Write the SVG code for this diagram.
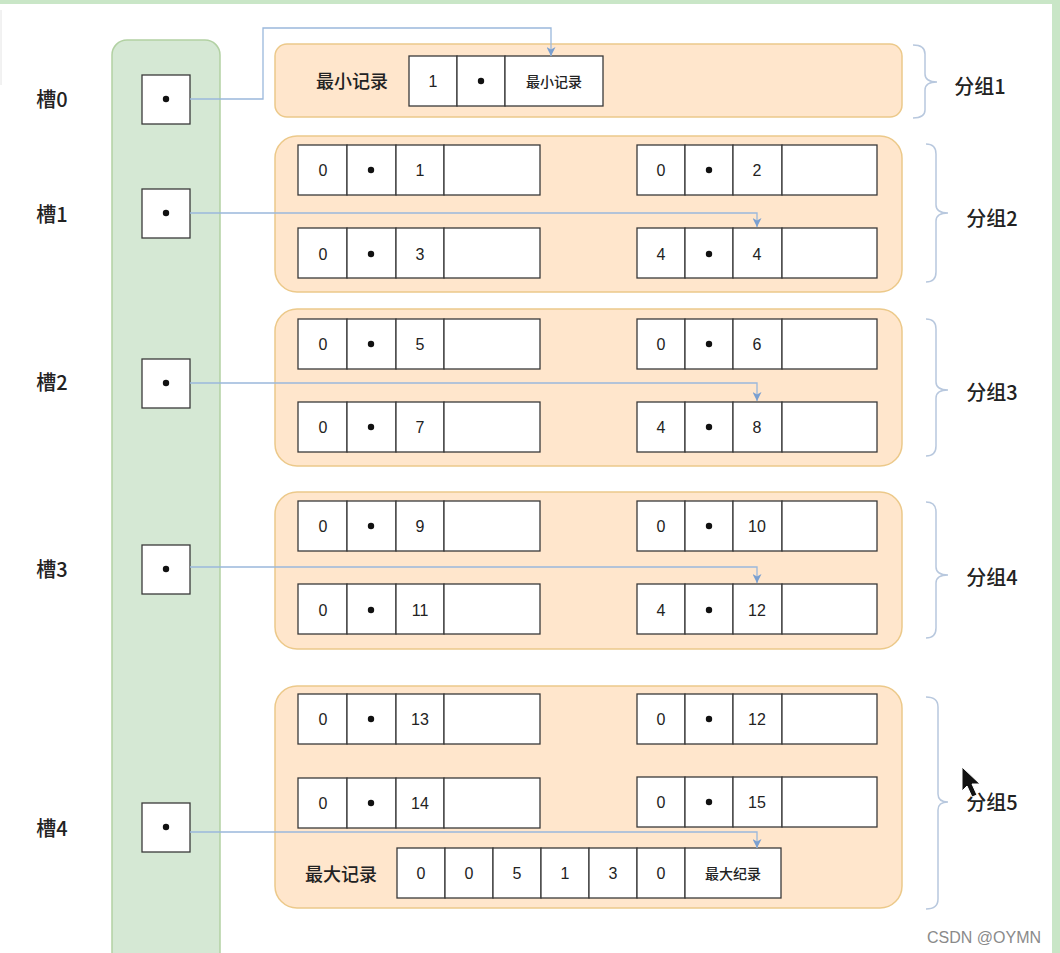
<svg xmlns="http://www.w3.org/2000/svg" width="1060" height="953" viewBox="0 0 1060 953">
<style>
.grp{fill:#ffe6cc;stroke:#ecc98a;stroke-width:1.5}
.col{fill:#d5e8d4;stroke:#b2d1a3;stroke-width:1.5}
.cell{fill:#fff;stroke:#3a3a3a;stroke-width:1.3}
.t{font-family:"Liberation Sans","Noto Sans CJK SC",sans-serif;fill:#222;text-anchor:middle;dominant-baseline:central}
.n{font-size:16px}
.lbl{font-size:20px;font-weight:500;font-family:"Noto Sans CJK SC","Liberation Sans",sans-serif}
.sm{font-size:14px;font-weight:500;font-family:"Noto Sans CJK SC","Liberation Sans",sans-serif}
.md{font-size:18px;font-weight:500;font-family:"Noto Sans CJK SC","Liberation Sans",sans-serif}
.conn{fill:none;stroke:#9ab8dc;stroke-width:1.3}
.brace{fill:none;stroke:#b8c8de;stroke-width:1.5}
.dot{fill:#111}
</style>
<defs>
<marker id="arr" markerWidth="9" markerHeight="9" refX="9" refY="4.5" orient="auto" markerUnits="userSpaceOnUse" viewBox="0 0 9 9">
<path d="M0,0 L9,4.5 L0,9 L2.5,4.5 Z" fill="#7a9fd0"/>
</marker>
</defs>
<rect width="1060" height="953" fill="#fff"/>
<rect x="0" y="0" width="1060" height="4" fill="#c9e6c7"/>
<rect x="1052" y="0" width="8" height="953" fill="#c9e6c7"/>
<line x1="1" y1="10" x2="1" y2="85" stroke="#e4e4e4" stroke-width="1"/>

<g id="slots-column"><rect class="col" x="112" y="40" width="108" height="930" rx="15"/></g>

<g id="slot-labels">
<text class="t lbl" x="52" y="98">槽0</text>
<text class="t lbl" x="52" y="213">槽1</text>
<text class="t lbl" x="52" y="381">槽2</text>
<text class="t lbl" x="52" y="568">槽3</text>
<text class="t lbl" x="52" y="827">槽4</text>
</g>

<g id="slot0"><rect class="cell" x="142" y="75" width="48" height="49"/><circle class="dot" cx="166" cy="99" r="3.2"/></g>
<g id="slot1"><rect class="cell" x="142" y="189" width="48" height="49"/><circle class="dot" cx="166" cy="213" r="3.2"/></g>
<g id="slot2"><rect class="cell" x="142" y="359" width="48" height="49"/><circle class="dot" cx="166" cy="383" r="3.2"/></g>
<g id="slot3"><rect class="cell" x="142" y="545" width="48" height="49"/><circle class="dot" cx="166" cy="569" r="3.2"/></g>
<g id="slot4"><rect class="cell" x="142" y="803" width="48" height="49"/><circle class="dot" cx="166" cy="827" r="3.2"/></g>

<g id="group1">
<rect class="grp" x="275" y="44" width="627" height="73" rx="12"/>
<text class="t md" x="352" y="80">最小记录</text>
<rect class="cell" x="409" y="56" width="48" height="50"/>
<rect class="cell" x="457" y="56" width="48" height="50"/>
<rect class="cell" x="505" y="56" width="98" height="50"/>
<text class="t n" x="433" y="81">1</text>
<circle class="dot" cx="481" cy="81" r="3.2"/>
<text class="t sm" x="554" y="81">最小记录</text>
</g>

<g id="group2">
<rect class="grp" x="275" y="136" width="627" height="156" rx="22"/>
<rect class="cell" x="298" y="145" width="49" height="50"/><rect class="cell" x="347" y="145" width="49" height="50"/><rect class="cell" x="396" y="145" width="48" height="50"/><rect class="cell" x="444" y="145" width="96" height="50"/>
<text class="t n" x="323" y="170">0</text><circle class="dot" cx="371" cy="170" r="3.2"/><text class="t n" x="420" y="170">1</text>
<rect class="cell" x="637" y="145" width="48" height="50"/><rect class="cell" x="685" y="145" width="48" height="50"/><rect class="cell" x="733" y="145" width="49" height="50"/><rect class="cell" x="782" y="145" width="95" height="50"/>
<text class="t n" x="661" y="170">0</text><circle class="dot" cx="709" cy="170" r="3.2"/><text class="t n" x="757" y="170">2</text>
<rect class="cell" x="298" y="228" width="49" height="50"/><rect class="cell" x="347" y="228" width="49" height="50"/><rect class="cell" x="396" y="228" width="48" height="50"/><rect class="cell" x="444" y="228" width="96" height="50"/>
<text class="t n" x="323" y="254">0</text><circle class="dot" cx="371" cy="254" r="3.2"/><text class="t n" x="420" y="254">3</text>
<rect class="cell" x="637" y="228" width="48" height="50"/><rect class="cell" x="685" y="228" width="48" height="50"/><rect class="cell" x="733" y="228" width="49" height="50"/><rect class="cell" x="782" y="228" width="95" height="50"/>
<text class="t n" x="661" y="254">4</text><circle class="dot" cx="709" cy="254" r="3.2"/><text class="t n" x="757" y="254">4</text>
</g>

<g id="group3">
<rect class="grp" x="275" y="309" width="627" height="157" rx="22"/>
<rect class="cell" x="298" y="319" width="49" height="50"/><rect class="cell" x="347" y="319" width="49" height="50"/><rect class="cell" x="396" y="319" width="48" height="50"/><rect class="cell" x="444" y="319" width="96" height="50"/>
<text class="t n" x="323" y="344">0</text><circle class="dot" cx="371" cy="344" r="3.2"/><text class="t n" x="420" y="344">5</text>
<rect class="cell" x="637" y="319" width="48" height="50"/><rect class="cell" x="685" y="319" width="48" height="50"/><rect class="cell" x="733" y="319" width="49" height="50"/><rect class="cell" x="782" y="319" width="95" height="50"/>
<text class="t n" x="661" y="344">0</text><circle class="dot" cx="709" cy="344" r="3.2"/><text class="t n" x="757" y="344">6</text>
<rect class="cell" x="298" y="402" width="49" height="50"/><rect class="cell" x="347" y="402" width="49" height="50"/><rect class="cell" x="396" y="402" width="48" height="50"/><rect class="cell" x="444" y="402" width="96" height="50"/>
<text class="t n" x="323" y="427">0</text><circle class="dot" cx="371" cy="427" r="3.2"/><text class="t n" x="420" y="427">7</text>
<rect class="cell" x="637" y="402" width="48" height="50"/><rect class="cell" x="685" y="402" width="48" height="50"/><rect class="cell" x="733" y="402" width="49" height="50"/><rect class="cell" x="782" y="402" width="95" height="50"/>
<text class="t n" x="661" y="427">4</text><circle class="dot" cx="709" cy="427" r="3.2"/><text class="t n" x="757" y="427">8</text>
</g>

<g id="group4">
<rect class="grp" x="275" y="492" width="627" height="157" rx="22"/>
<rect class="cell" x="298" y="501" width="49" height="50"/><rect class="cell" x="347" y="501" width="49" height="50"/><rect class="cell" x="396" y="501" width="48" height="50"/><rect class="cell" x="444" y="501" width="96" height="50"/>
<text class="t n" x="323" y="526">0</text><circle class="dot" cx="371" cy="526" r="3.2"/><text class="t n" x="420" y="526">9</text>
<rect class="cell" x="637" y="501" width="48" height="50"/><rect class="cell" x="685" y="501" width="48" height="50"/><rect class="cell" x="733" y="501" width="49" height="50"/><rect class="cell" x="782" y="501" width="95" height="50"/>
<text class="t n" x="661" y="526">0</text><circle class="dot" cx="709" cy="526" r="3.2"/><text class="t n" x="757" y="526">10</text>
<rect class="cell" x="298" y="584" width="49" height="50"/><rect class="cell" x="347" y="584" width="49" height="50"/><rect class="cell" x="396" y="584" width="48" height="50"/><rect class="cell" x="444" y="584" width="96" height="50"/>
<text class="t n" x="323" y="610">0</text><circle class="dot" cx="371" cy="610" r="3.2"/><text class="t n" x="420" y="610">11</text>
<rect class="cell" x="637" y="584" width="48" height="50"/><rect class="cell" x="685" y="584" width="48" height="50"/><rect class="cell" x="733" y="584" width="49" height="50"/><rect class="cell" x="782" y="584" width="95" height="50"/>
<text class="t n" x="661" y="610">4</text><circle class="dot" cx="709" cy="610" r="3.2"/><text class="t n" x="757" y="610">12</text>
</g>

<g id="group5">
<rect class="grp" x="275" y="686" width="627" height="222" rx="22"/>
<rect class="cell" x="298" y="694" width="49" height="50"/><rect class="cell" x="347" y="694" width="49" height="50"/><rect class="cell" x="396" y="694" width="48" height="50"/><rect class="cell" x="444" y="694" width="96" height="50"/>
<text class="t n" x="323" y="719">0</text><circle class="dot" cx="371" cy="719" r="3.2"/><text class="t n" x="420" y="719">13</text>
<rect class="cell" x="637" y="694" width="48" height="50"/><rect class="cell" x="685" y="694" width="48" height="50"/><rect class="cell" x="733" y="694" width="49" height="50"/><rect class="cell" x="782" y="694" width="95" height="50"/>
<text class="t n" x="661" y="719">0</text><circle class="dot" cx="709" cy="719" r="3.2"/><text class="t n" x="757" y="719">12</text>
<rect class="cell" x="298" y="778" width="49" height="50"/><rect class="cell" x="347" y="778" width="49" height="50"/><rect class="cell" x="396" y="778" width="48" height="50"/><rect class="cell" x="444" y="778" width="96" height="50"/>
<text class="t n" x="323" y="803">0</text><circle class="dot" cx="371" cy="803" r="3.2"/><text class="t n" x="420" y="803">14</text>
<rect class="cell" x="637" y="777" width="48" height="50"/><rect class="cell" x="685" y="777" width="48" height="50"/><rect class="cell" x="733" y="777" width="49" height="50"/><rect class="cell" x="782" y="777" width="95" height="50"/>
<text class="t n" x="661" y="802">0</text><circle class="dot" cx="709" cy="802" r="3.2"/><text class="t n" x="757" y="802">15</text>
<text class="t md" x="341" y="873">最大记录</text>
<rect class="cell" x="397" y="848" width="48" height="50"/><rect class="cell" x="445" y="848" width="48" height="50"/><rect class="cell" x="493" y="848" width="48" height="50"/><rect class="cell" x="541" y="848" width="48" height="50"/><rect class="cell" x="589" y="848" width="48" height="50"/><rect class="cell" x="637" y="848" width="48" height="50"/><rect class="cell" x="685" y="848" width="96" height="50"/>
<text class="t n" x="421" y="873">0</text><text class="t n" x="469" y="873">0</text><text class="t n" x="517" y="873">5</text><text class="t n" x="565" y="873">1</text><text class="t n" x="613" y="873">3</text><text class="t n" x="661" y="873">0</text>
<text class="t sm" x="733" y="873">最大纪录</text>
</g>

<g id="connectors">
<path class="conn" d="M190,99 H263 V28 H551 V56" marker-end="url(#arr)"/>
<path class="conn" d="M190,213 H757 V227" marker-end="url(#arr)"/>
<path class="conn" d="M190,383 H757 V401" marker-end="url(#arr)"/>
<path class="conn" d="M190,567 H757 V583" marker-end="url(#arr)"/>
<path class="conn" d="M190,832 H757 V848" marker-end="url(#arr)"/>
</g>

<g id="braces">
<path class="brace" d="M913,45 Q925,45 925,54 V74 Q925,82 937,82 Q925,82 925,90 V110 Q925,118 913,118"/>
<path class="brace" d="M926,144 Q936,144 936,154 V205 Q936,213 948,213 Q936,213 936,221 V272 Q936,282 926,282"/>
<path class="brace" d="M926,319 Q936,319 936,329 V382 Q936,390 948,390 Q936,390 936,398 V446 Q936,456 926,456"/>
<path class="brace" d="M926,502 Q936,502 936,512 V567 Q936,575 948,575 Q936,575 936,583 V628 Q936,638 926,638"/>
<path class="brace" d="M926,697 Q938,697 938,707 V794 Q938,802 948,802 Q938,802 938,810 V899 Q938,909 926,909"/>
</g>

<g id="group-labels">
<text class="t lbl" x="980" y="85">分组1</text>
<text class="t lbl" x="992" y="217">分组2</text>
<text class="t lbl" x="992" y="391">分组3</text>
<text class="t lbl" x="992" y="576">分组4</text>
<text class="t lbl" x="992" y="801">分组5</text>
</g>

<path d="M962,767 L962,791 L967,786 L972,797 L977,795 L972,784 L980,784 Z" fill="#111" stroke="#fff" stroke-width="1"/>

<text x="984" y="937" font-family="Liberation Sans, sans-serif" font-size="16" fill="#8a8a8a" text-anchor="middle" dominant-baseline="central">CSDN @OYMN</text>
</svg>
